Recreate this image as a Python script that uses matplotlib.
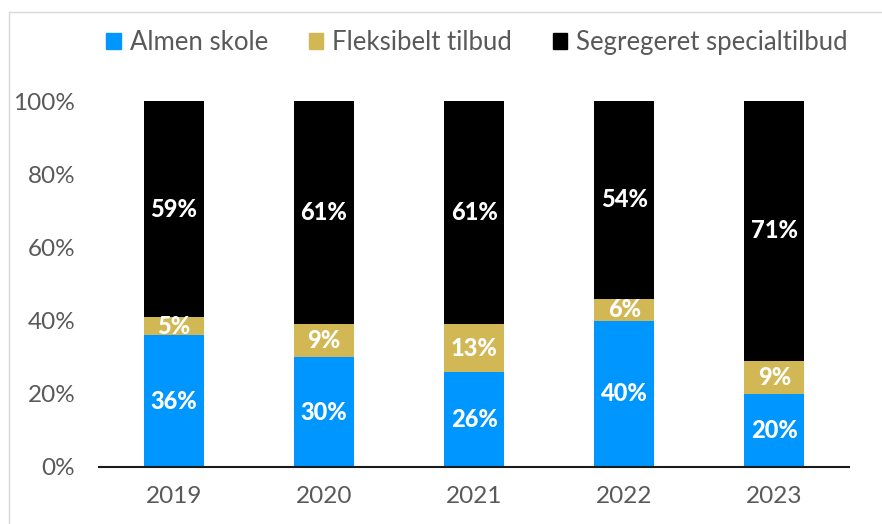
import matplotlib.pyplot as plt
from matplotlib.lines import Line2D
from matplotlib.patches import Patch

plt.rcParams['font.family'] = ['Lato', 'DejaVu Sans']

years = ['2019', '2020', '2021', '2022', '2023']
almen = [36, 30, 26, 40, 20]
fleks = [5, 9, 13, 6, 9]
segreg = [59, 61, 61, 54, 71]

series_names = ['Almen skole', 'Fleksibelt tilbud', 'Segregeret specialtilbud']
colors = ['#0096FF', '#D1B855', '#000000']


def main():
    fig = plt.figure(figsize=(8.82, 5.24), dpi=100, facecolor='white')
    ax = fig.add_axes([0.112, 0.109, 0.851, 0.698])

    x = range(len(years))
    bottom = [0] * len(years)
    for vals, col in zip([almen, fleks, segreg], colors):
        bars = ax.bar(x, vals, width=0.4, bottom=bottom, color=col)
        for b, v, base in zip(bars, vals, bottom):
            ax.text(b.get_x() + b.get_width() / 2, base + v / 2, '%d%%' % v,
                    ha='center', va='center', color='white', fontsize=17,
                    fontweight='black')
        bottom = [a + b for a, b in zip(bottom, vals)]

    ax.set_xlim(-0.5, len(years) - 0.5)
    ax.set_ylim(0, 100)
    ax.set_yticks(range(0, 101, 20))
    ax.set_yticklabels(['%d%%' % t for t in range(0, 101, 20)])
    ax.set_xticks(list(x))
    ax.set_xticklabels(years)
    ax.tick_params(axis='both', length=0, labelsize=17.5, labelcolor='#595959')
    ax.tick_params(axis='x', pad=14)
    ax.tick_params(axis='y', pad=17)
    for s in ['top', 'right', 'left']:
        ax.spines[s].set_visible(False)
    ax.spines['bottom'].set_linewidth(1.5)
    ax.spines['bottom'].set_color('#1a1a1a')

    handles = [Patch(color=c) for c in colors]
    fig.legend(handles, series_names, loc='center', bbox_to_anchor=(0.541, 0.919),
               ncol=3, frameon=False, fontsize=18.5, handlelength=0.55, handleheight=0.55,
               handletextpad=0.35, columnspacing=1.6, labelcolor='#595959')

    # thin grey frame at top and left of the picture
    fig.add_artist(Line2D([9 / 882, 1], [1 - 12 / 524, 1 - 12 / 524], color='#d9d9d9', lw=1))
    fig.add_artist(Line2D([9 / 882, 9 / 882], [0, 1 - 12 / 524], color='#d9d9d9', lw=1))

    fig.savefig('out.png', dpi=100, facecolor='white')


if __name__ == '__main__':
    main()
